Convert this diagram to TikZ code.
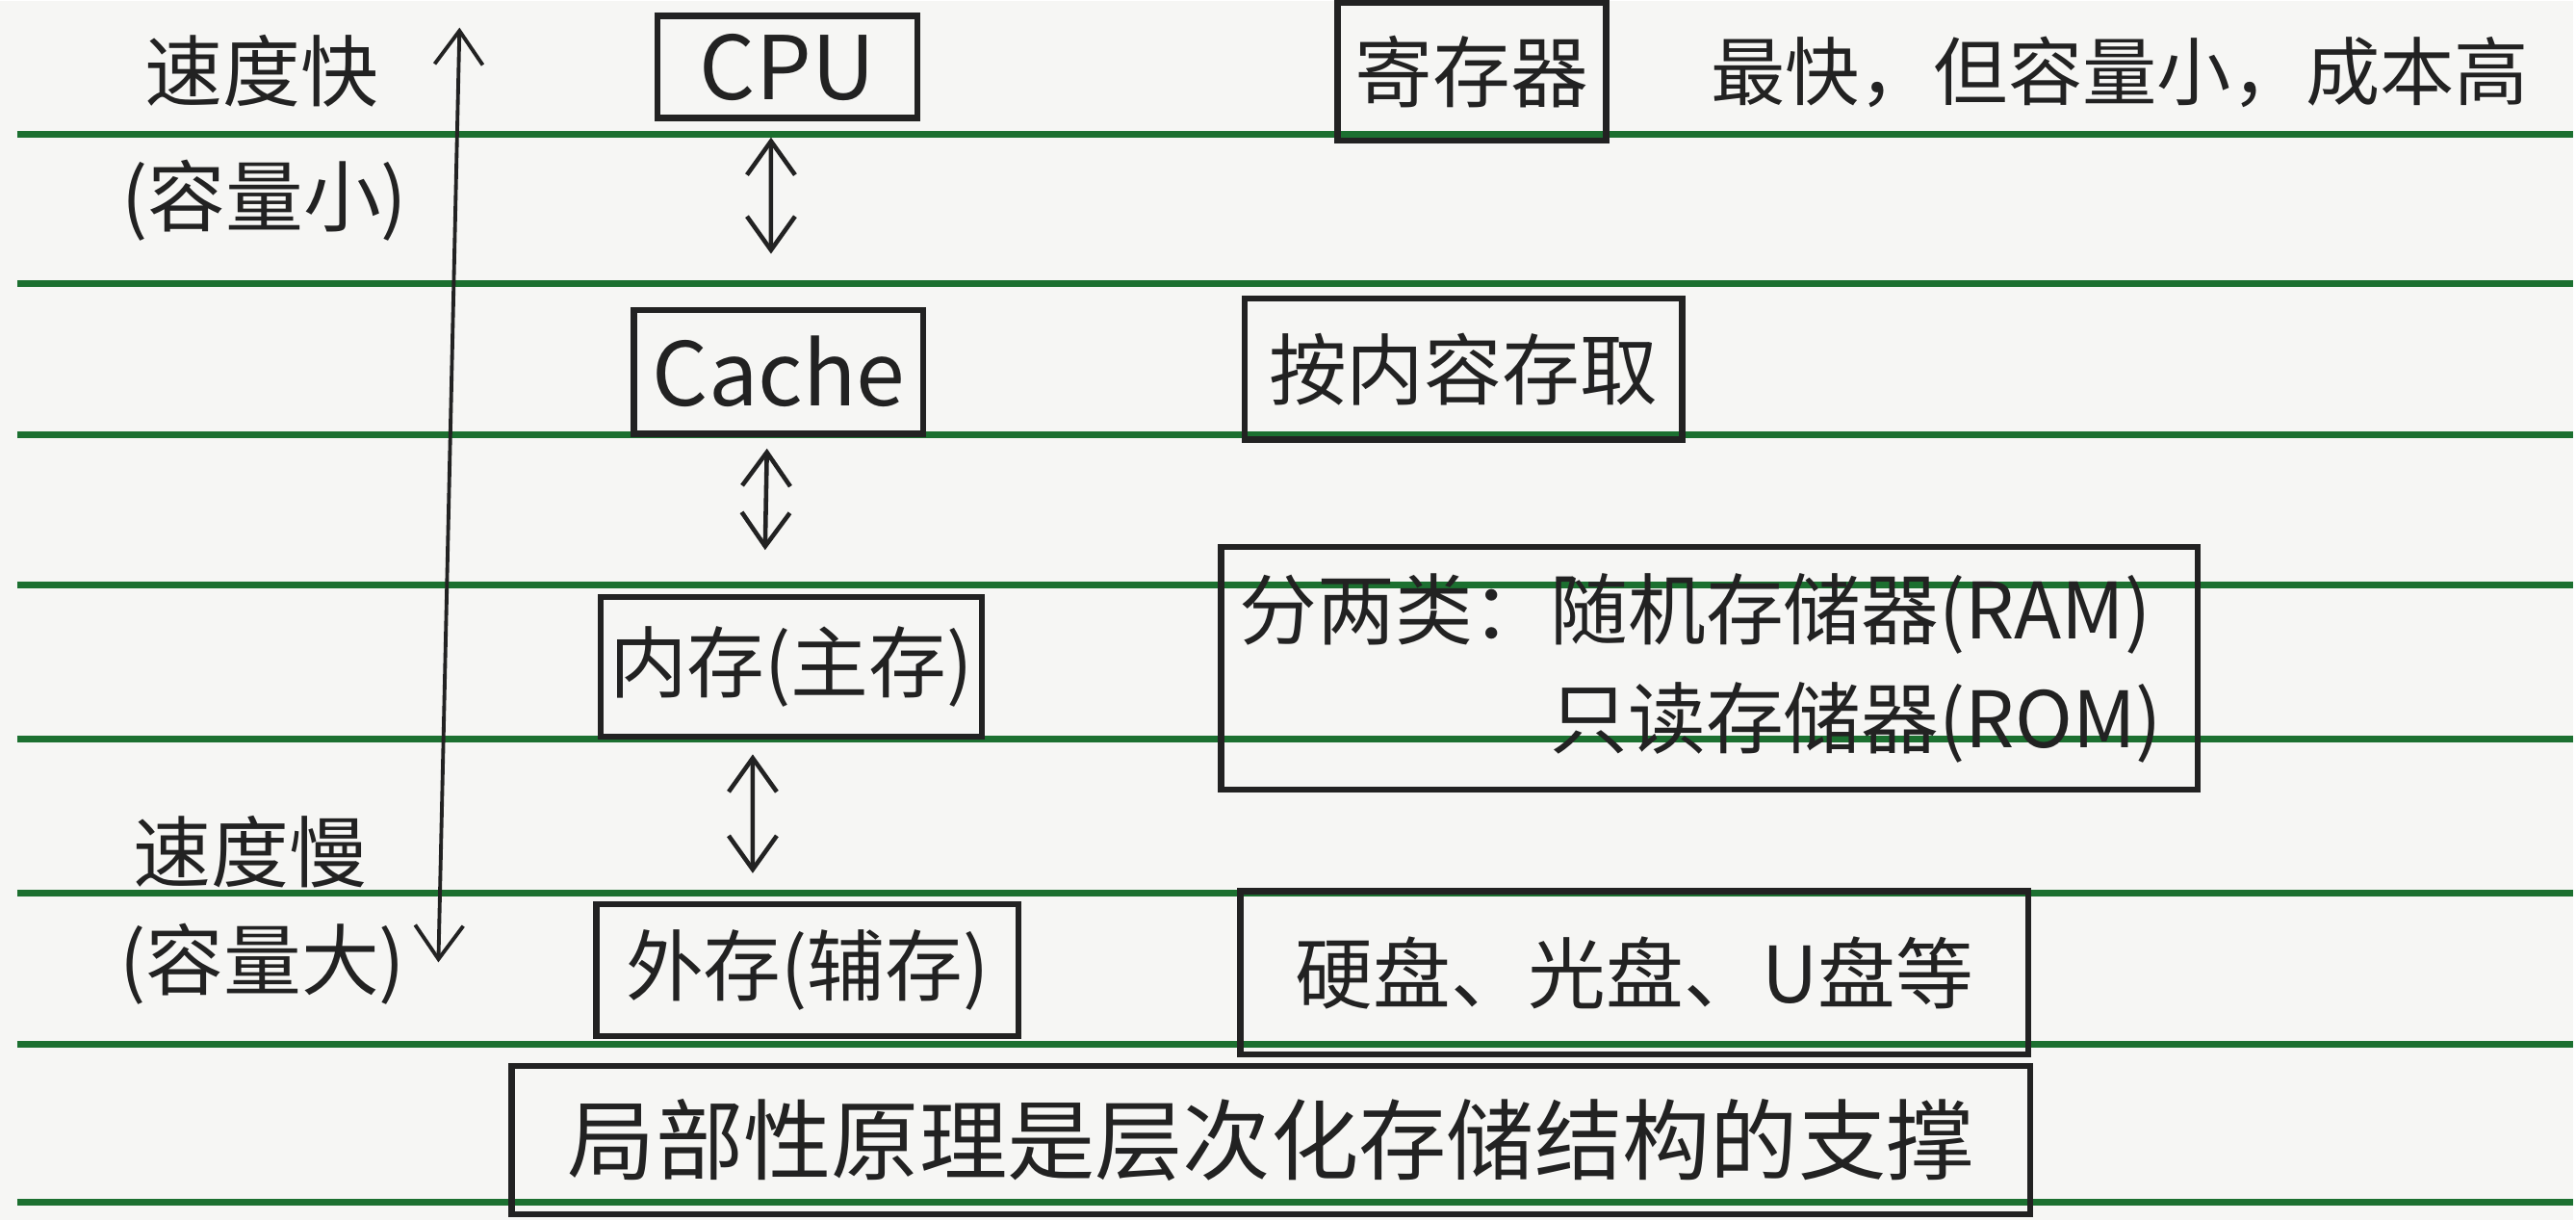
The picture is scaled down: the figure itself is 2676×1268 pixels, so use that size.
\documentclass[tikz,border=0pt]{standalone}
\usepackage{fontspec}
\setmainfont{Noto Sans CJK SC}
\usetikzlibrary{arrows.meta}

\definecolor{paper}{RGB}{246,246,244}
\definecolor{rule}{RGB}{28,112,48}
\definecolor{pen}{RGB}{34,34,34}

\begin{document}
\begin{tikzpicture}[x=0.01cm, y=-0.01cm,
  box/.style={draw=pen, line width=1.8pt, text=pen, inner sep=0pt,
    font=\fontsize{23}{30}\selectfont},
  note/.style={text=pen, inner sep=0pt, font=\fontsize{23}{30}\selectfont},
  link/.style={draw=pen, line width=1.3pt,
    {Straight Barb[length=3.5mm,width=5mm]}-{Straight Barb[length=3.5mm,width=5mm]}}]
\fill[paper] (0,0) rectangle (2676,1268);
% ruled lines of the page
\foreach \y in {139,294,451,608,768,928,1085,1249}
  \draw[rule, line width=2pt] (18,\y) -- (2676,\y);

% speed / capacity scale on the left
\node[note] (fast) at (272,73) {速度快};
\node[note] (fastcap) at (275,208) {(容量小)};
\node[note] (slow) at (260,885) {速度慢};
\node[note] (slowcap) at (273,1002) {(容量大)};
\coordinate (top) at (478,28);
\coordinate (bottom) at (456,1000);
\draw[link, line width=1.1pt] (bottom) -- (top);

% the hierarchy
\node[box, minimum width=2.70cm, minimum height=1.06cm,
      font=\fontsize{26}{30}\selectfont] (cpu) at (819,69) {CPU};
\node[box, minimum width=3.01cm, minimum height=1.29cm,
      font=\fontsize{26}{30}\selectfont] (cache) at (810,386) {Cache};
\node[box, minimum width=3.96cm, minimum height=1.45cm] (mem) at (823,693) {内存(主存)};
\node[box, minimum width=4.39cm, minimum height=1.37cm] (ext) at (840,1008) {外存(辅存)};

\draw[link, shorten <=0.17cm, shorten >=0.55cm]
  ([xshift=-0.17cm]cpu.south) -- ([xshift=-0.08cm]cache.north);
\draw[link, shorten <=0.12cm, shorten >=0.46cm]
  ([xshift=-0.12cm]cache.south) -- ([xshift=-0.28cm]mem.north);
\draw[link, shorten <=0.15cm, shorten >=0.29cm]
  ([xshift=-0.40cm]mem.south) -- ([xshift=-0.57cm]ext.north);

% notes on the right
\node[box, minimum width=2.79cm, minimum height=1.43cm] (reg) at (1531,74) {寄存器};
\node[note, font=\fontsize{22}{30}\selectfont] (regnote) at (2205,74) {最快，但容量小，成本高};
\node[box, minimum width=4.55cm, minimum height=1.47cm] (cam) at (1522,383) {按内容存取};
\node[box, text width=9.77cm, inner xsep=0.19cm, minimum height=2.52cm,
      align=left, font=\fontsize{23}{32}\selectfont] (kinds) at (1778,694)
  {分两类：随机存储器(RAM)\\\phantom{分两类：}只读存储器(ROM)};
\node[box, minimum width=8.19cm, minimum height=1.70cm] (disk) at (1700,1011) {硬盘、光盘、U盘等};

\node[box, minimum width=15.79cm, minimum height=1.54cm,
      font=\fontsize{26}{30}\selectfont] (locality) at (1322,1185)
  {局部性原理是层次化存储结构的支撑};
\end{tikzpicture}
\end{document}
